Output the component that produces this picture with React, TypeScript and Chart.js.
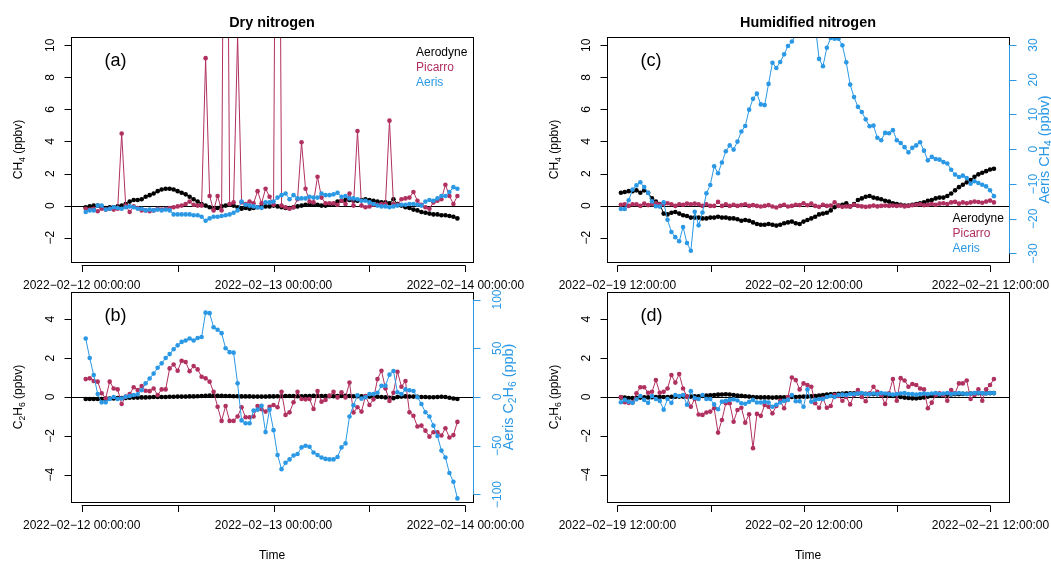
import { useEffect, useRef } from "react";
import { Chart, registerables } from "chart.js";

Chart.register(...registerables);

const FONT = '"Liberation Sans", Arial, Helvetica, sans-serif';
const BLACK = "#000000";
const MAROON = "#B03060";
const BLUE = "#2A98E5";

// ---------- sampling (hours since first axis tick) ----------
const DRY_FIRST_HOUR = 0.5; // 2022-02-12 00:00 + 0.5 h
const HUM_FIRST_HOUR = 0.45; // 2022-02-19 12:00 + 0.45 h
const SAMPLE_STEP_HOURS = 0.5;

// ---------- Dry nitrogen, CH4 (ppbv) ----------
const dryAerodyneCH4 = [
  -0.1, -0.05, 0.0, 0.0, -0.1, -0.15, -0.1, -0.1, -0.05, 0.0,
  0.1, 0.25, 0.35, 0.35, 0.4, 0.55, 0.65, 0.75, 0.9, 1.0,
  1.05, 1.05, 1.0, 0.9, 0.8, 0.7, 0.55, 0.4, 0.25, 0.1,
  0.0, -0.1, -0.2, -0.15, -0.05, 0.0, 0.05, 0.0, -0.1, -0.2,
  -0.15, -0.2, -0.15, -0.1, -0.05, -0.05, -0.05, 0.0, -0.05, -0.1,
  -0.15, -0.15, -0.1, -0.05, 0.0, 0.05, 0.05, 0.05, 0.05, 0.0,
  0.0, 0.05, 0.1, 0.25, 0.3, 0.35, 0.35, 0.3, 0.3, 0.35,
  0.4, 0.35, 0.3, 0.25, 0.2, 0.2, 0.15, 0.4, 0.1, 0.0,
  -0.1, -0.15, -0.25, -0.3, -0.4, -0.45, -0.5, -0.55, -0.55, -0.6,
  -0.6, -0.65, -0.7, -0.8,
];
const dryPicarroCH4 = [
  -0.2, -0.25, -0.2, -0.35, -0.2, -0.25, -0.2, -0.25, -0.2, 4.5,
  0.0, -0.4, -0.05, -0.15, -0.3, -0.3, -0.35, -0.3, -0.2, -0.25,
  -0.2, -0.15, -0.1, -0.05, 0.0, 0.1, 0.25, 0.05, 0.0, 0.0,
  9.2, 0.6, -0.3, 0.6, -0.3, 40, 0.1, 0.2, 10.6, 0.2,
  0.1, 0.25, 0.15, 0.9, 0.15, 1.05, 0.55, 0.05, 45, 0.0,
  -0.1, -0.2, -0.1, 0.4, 3.95, 1.05, 0.25, 0.2, 1.8, 0.5,
  0.15, 0.15, 0.15, 0.05, 0.3, 0.1, 0.75, 0.0, 4.65, 0.0,
  -0.1, -0.05, 0.05, 0.05, 0.1, 0.1, 5.3, 0.1, 0.05, 0.4,
  0.45, 0.5, 0.85, 0.3, 0.05, -0.1, -0.2, 0.2, 0.3, 0.4,
  1.3, 0.6, 0.1, 0.6,
];
const dryAerisCH4 = [
  -0.4, -0.3, -0.3, 0.0, 0.0, -0.25, -0.2, -0.1, -0.15, -0.2,
  -0.1, -0.05, -0.1, -0.2, -0.2, -0.3, -0.25, -0.3, -0.25, -0.3,
  -0.25, -0.3, -0.55, -0.55, -0.55, -0.55, -0.55, -0.6, -0.6, -0.7,
  -0.95, -0.8, -0.7, -0.7, -0.65, -0.6, -0.55, -0.45, -0.3, 0.25,
  0.05, 0.0, -0.05, -0.1, -0.15, 0.2, 0.2, 0.25, 0.5, 0.65,
  0.75, 0.4, 0.65, 0.45, 0.45, 0.45, 0.55, 0.5, 0.5, 0.75,
  0.65, 0.65, 0.7, 0.8, 0.55, 0.6, 0.45, 0.45, 0.4, 0.3,
  0.3, 0.2, 0.1, 0.0, -0.05, -0.05, -0.1, -0.05, 0.0, 0.05,
  0.05, 0.1, 0.1, 0.05, 0.0, 0.25, 0.35, 0.3, 0.45, 0.6,
  0.6, 0.85, 1.15, 1.05,
];

// ---------- Dry nitrogen, C2H6 ----------
const dryAerodyneC2H6 = [
  -0.1, -0.1, -0.1, -0.1, -0.1, -0.1, -0.08, -0.08, -0.06, -0.05,
  -0.05, -0.04, -0.03, -0.03, -0.02, -0.02, -0.01, 0.0, 0.0, 0.0,
  0.0, 0.01, 0.01, 0.02, 0.02, 0.02, 0.03, 0.03, 0.04, 0.05,
  0.06, 0.07, 0.07, 0.06, 0.06, 0.05, 0.05, 0.04, 0.04, 0.03,
  0.03, 0.03, 0.02, 0.02, 0.02, 0.02, 0.03, 0.03, 0.04, 0.04,
  0.05, 0.05, 0.05, 0.04, 0.04, 0.05, 0.05, 0.06, 0.06, 0.05,
  0.05, 0.04, 0.04, 0.05, 0.06, 0.06, 0.05, 0.04, 0.04, 0.03,
  0.03, 0.02, 0.02, 0.01, 0.0, -0.02, -0.04, -0.06, 0.0, 0.02,
  0.03, 0.02, 0.02, 0.01, 0.0, 0.0, -0.01, -0.01, 0.0, 0.01,
  0.0, -0.04, -0.08, -0.1,
];
const dryPicarroC2H6 = [
  0.92, 0.96, 0.82, 0.79, 0.19, -0.07, 0.79, 0.44, 0.39, -0.36,
  0.02, 0.15, 0.5, 0.36, 0.56, 0.32, 0.3, 0.44, 0.1, 0.39,
  0.39, 1.47, 1.67, 1.35, 1.86, 1.8, 1.33, 1.59, 1.42, 1.04,
  0.96, 0.79, 0.27, -0.5, -1.23, -0.46, -1.23, -1.23, -1.0, -0.53,
  -1.04, -1.04, -1.0, -0.46, -0.63, -0.75, -0.5, -0.41, -0.53, 0.27,
  -0.92, -0.79, -0.27, 0.27, -0.1, -0.12, -0.1, -0.62, 0.31, -0.24,
  -0.15, 0.07, 0.27, -0.02, 0.24, -0.02, 0.74, -0.8, -0.53, -0.75,
  0.05, -0.41, -0.12, 0.92, 1.35, 0.44, -0.2, 0.22, 1.3, 0.53,
  0.82, -0.79, -0.97, -1.52, -1.47, -1.73, -2.04, -1.81, -1.81, -1.98,
  -1.61, -2.08, -1.96, -1.28,
];
const dryAerisC2H6 = [
  60, 40, 22.6, 3, -5.5, -5.5, -2, 0, -2, -1.5,
  0.3, 1, 2, 2.7, 7, 14, 19, 24, 30, 34.5,
  40, 44, 49, 53, 56.5, 58, 60, 58, 60.5, 61.5,
  86.5, 86, 71.5, 69, 65.5, 50, 46, 45.5, 14, -24,
  -27, -27, -14, -13, -9, -36, -13, -34, -59.5, -74,
  -67.5, -64, -60, -58.5, -51.7, -50, -51, -57, -59.5, -62,
  -63.5, -64, -64, -61.5, -51.7, -47.6, -20, -8.4, 1.7, -1.7,
  -0.3, 3, 3, 4.4, 11.6, 11.6, 22.9, 26.7, 4.8, 3,
  7.8, 7, 6.1, -0.3, -7.2, -15.7, -20, -29.4, -40, -55,
  -62, -78, -87, -104,
];

// ---------- Humidified nitrogen, CH4 ----------
const humAerodyneCH4 = [
  0.8, 0.85, 0.9, 0.9, 0.95, 0.8, 0.95, 0.8, 0.45, 0.25,
  0.1, -0.5, -0.55, -0.45, -0.4, -0.5, -0.6, -0.65, -0.75, -0.75,
  -0.75, -0.8, -0.8, -0.75, -0.75, -0.7, -0.75, -0.75, -0.8, -0.8,
  -0.85, -0.95, -0.9, -0.95, -1.05, -1.15, -1.2, -1.2, -1.15, -1.2,
  -1.25, -1.2, -1.1, -1.05, -1.0, -1.1, -1.15, -1.0, -0.9, -0.8,
  -0.7, -0.55, -0.5, -0.45, -0.3, -0.1, 0.0, 0.05, 0.15, -0.05,
  0.1, 0.35, 0.45, 0.55, 0.6, 0.5, 0.45, 0.4, 0.3, 0.25,
  0.15, 0.1, 0.05, 0.0, 0.0, 0.05, 0.1, 0.15, 0.2, 0.3,
  0.35, 0.45, 0.5, 0.5, 0.6, 0.75, 0.95, 1.15, 1.3, 1.45,
  1.6, 1.8, 1.95, 2.05, 2.15, 2.25, 2.3,
];
const humPicarroCH4 = [
  0.05, 0.08, -0.02, 0.08, 0.08, -0.02, 0.12, 0.03, 0.08, 0.15,
  0.08, 0.08, 0.15, 0.08, -0.02, 0.08, 0.05, 0.12, 0.08, 0.12,
  0.08, -0.02, 0.08, -0.02, -0.02, 0.23, -0.02, 0.08, -0.02, 0.05,
  -0.02, 0.03, 0.08, -0.02, 0.03, -0.02, -0.06, -0.02, 0.03, -0.06,
  -0.12, -0.02, 0.05, -0.06, -0.02, 0.05, 0.03, 0.15, 0.02, 0.12,
  -0.02, -0.08, 0.05, -0.02, 0.0, 0.2, -0.02, -0.08, -0.05, -0.05,
  0.05, -0.02, -0.05, -0.08, -0.05, 0.0, -0.05, -0.02, 0.0, -0.02,
  0.0, -0.02, 0.0, -0.05, -0.02, 0.02, 0.05, 0.08, 0.02, 0.05,
  0.1, 0.05, 0.12, 0.15, 0.1, 0.2, 0.23, 0.12, 0.2, 0.15,
  0.2, 0.25, 0.22, 0.18, 0.25, 0.31, 0.2,
];
const humAerisCH4 = [
  -17.2, -17.2, -14.7, -11.6, -10.4, -9.5, -10.9, -12.6, -15.0, -16.4,
  -16.5, -15.3, -20.3, -23.8, -25.3, -26.5, -22.4, -27.0, -29.2, -18.0,
  -21.9, -18.2, -12.7, -10.3, -4.9, -6.9, -3.8, -0.6, 1.1, -0.1,
  2.2, 5.1, 6.7, 11.4, 14.5, 16.0, 12.9, 12.7, 18.8, 24.9,
  23.4, 25.1, 27.3, 29.7, 31.0,
  33, 36, 38, 39, 38, 36,
  26, 23.9, 29.2, 32.0, 31.8, 31.8, 29.9, 25, 18.6, 15,
  12.2, 10.7, 8.6, 6.6, 6.8, 3.3, 2.6, 4.7, 4.6, 5.5,
  2.6, 1.8, 0.6, -0.9, 0.4, 1.1, 2.0, -0.4, -3.2, -2.2,
  -2.8, -3.0, -3.7, -4.1, -5.9, -7.3, -8.0, -7.6, -8.3, -9.9,
  -9.2, -9.7, -10.2, -10.7, -11.8, -13.5,
];

// ---------- Humidified nitrogen, C2H6 ----------
const humAerodyneC2H6 = [
  -0.02, -0.03, -0.05, -0.05, -0.04, -0.03, -0.02, -0.02, -0.01, 0.0,
  0.0, 0.0, 0.0, 0.01, 0.01, 0.02, 0.02, 0.02, 0.02, 0.03,
  0.03, 0.05, 0.07, 0.09, 0.1, 0.12, 0.13, 0.14, 0.13, 0.1,
  0.08, 0.06, 0.04, 0.02, 0.0, -0.01, -0.02, -0.02, -0.02, -0.03,
  -0.02, -0.02, -0.01, -0.01, 0.0, 0.0, 0.01, 0.02, 0.02, 0.03,
  0.05, 0.07, 0.1, 0.12, 0.14, 0.15, 0.16, 0.18, 0.19, 0.19,
  0.19, 0.18, 0.17, 0.16, 0.15, 0.15, 0.14, 0.12, 0.1, 0.08,
  0.05, 0.03, 0.0, -0.03, -0.05, -0.07, -0.07, -0.05, -0.02, 0.02,
  0.05, 0.08, 0.1, 0.11, 0.12, 0.13, 0.14, 0.15, 0.16, 0.17,
  0.18, 0.18, 0.19, 0.19, 0.19, 0.2, 0.2,
];
const humPicarroC2H6 = [
  0.0, -0.27, -0.3, -0.27, 0.19, 0.5, 0.5, 0.22, 0.27, 0.87,
  0.22, 0.27, 0.44, 1.13, 0.74, 1.18, 0.44, 0.02, -0.5, -0.1,
  -0.9, -0.92, -0.8, -0.75, -0.58, -1.83, -1.18, -0.32, -0.32, -1.27,
  -0.67, -0.55, -1.32, -0.89, -2.63, -0.87, -0.97, -0.41, -0.5, -0.84,
  -0.46, -0.19, -0.58, 0.0, 1.0, 0.87, 0.39, 0.7, 0.62, 0.53,
  -0.32, -0.55, -0.07, -0.55, -0.46, 0.1, 0.05, -0.19, 0.0, -0.38,
  0.1, 0.36, 0.0, -0.22, 0.19, 0.53, 0.27, 0.1, -0.36, 0.19,
  0.92, -0.19, 0.97, 0.85, 0.53, 0.67, 0.62, 0.44, 0.39, -0.58,
  -0.29, 0.1, 0.19, 0.1, -0.19, 0.36, 0.19, 0.7, 0.7, 0.85,
  -0.1, 0.1, 0.39, -0.19, 0.4, 0.62, 0.92,
];
const humAerisC2H6 = [
  -0.27, -0.15, -0.24, -0.3, -0.12, 0.05, -0.15, -0.3, 0.05, -0.1,
  -0.2, -0.65, -0.1, -0.3, 0.1, 0.05, 0.1, -0.4, 0.3, -0.05,
  -0.1, 0.1, -0.1, -0.1, -0.38, -0.63, -0.24, -0.2, -0.15, -0.12,
  -0.18, -0.32, -0.35, -0.25, -0.15, -0.28, -0.28, -0.25, -0.28, -0.5,
  -0.4, -0.28, -0.2, -0.15, 0.1, -0.22, -0.22, -0.5, 0.39, -0.24,
  -0.15, -0.1, -0.1, 0.0, 0.05, 0.0, 0.1, 0.12, 0.1, 0.15,
  0.15, 0.18, 0.2, 0.15, 0.15, 0.18, 0.15, 0.2, 0.18, 0.15,
  0.12, 0.15, 0.18, 0.2, 0.15, 0.15, 0.12, 0.15, 0.18, 0.15,
  0.18, 0.2, 0.15, 0.18, 0.2, 0.15, 0.18, 0.2, 0.18, 0.15,
  0.18, 0.2, 0.22, 0.2, 0.18, 0.2, 0.2,
];

// ---------- axes ----------
const xTickHours = [0, 12, 24, 36, 48];
const dryTickLabels = ["2022\u221202\u221212 00:00:00", "", "2022\u221202\u221213 00:00:00", "", "2022\u221202\u221214 00:00:00"];
const humTickLabels = ["2022\u221202\u221219 12:00:00", "", "2022\u221202\u221220 12:00:00", "", "2022\u221202\u221221 12:00:00"];
const ch4Ticks = [-2, 0, 2, 4, 6, 8, 10];
const c2h6Ticks = [-4, -2, 0, 2, 4];
const aerisC2H6Ticks = [-100, -50, 0, 50, 100];
const aerisCH4Ticks = [-30, -20, -10, 0, 10, 20, 30];
const seriesNames = ["Aerodyne", "Picarro", "Aeris"];
const seriesColors = [BLACK, MAROON, BLUE];

const dryTimes = dryAerodyneCH4.map((_, i) => DRY_FIRST_HOUR + i * SAMPLE_STEP_HOURS);
const humTimes = humAerodyneCH4.map((_, i) => HUM_FIRST_HOUR + i * SAMPLE_STEP_HOURS);

type Seg = [string, boolean];
const CH4_TITLE: Seg[] = [["CH", false], ["4", true], [" (ppbv)", false]];
const C2H6_TITLE: Seg[] = [["C", false], ["2", true], ["H", false], ["6", true], [" (ppbv)", false]];
const AERIS_CH4_TITLE: Seg[] = [["Aeris CH", false], ["4", true], [" (ppbv)", false]];
const AERIS_C2H6_TITLE: Seg[] = [["Aeris C", false], ["2", true], ["H", false], ["6", true], [" (ppb)", false]];

const fmt = (v: number) => (v < 0 ? "\u2212" + Math.abs(v) : String(v));
const crisp = (v: number) => Math.round(v) + 0.5;

function vtext(ctx: any, bx: number, cy: number, segs: Seg[], size: number, color: string) {
  ctx.save();
  ctx.translate(bx, cy);
  ctx.rotate(-Math.PI / 2);
  ctx.fillStyle = color;
  ctx.textBaseline = "alphabetic";
  ctx.textAlign = "left";
  const sub = size * 0.72;
  const widths = segs.map(([t, s]) => {
    ctx.font = `${s ? sub : size}px ${FONT}`;
    return ctx.measureText(t).width;
  });
  const total = widths.reduce((a, b) => a + b, 0);
  let x = -total / 2;
  segs.forEach(([t, s], i) => {
    ctx.font = `${s ? sub : size}px ${FONT}`;
    ctx.fillText(t, x, s ? size * 0.25 : 0);
    x += widths[i];
  });
  ctx.restore();
}

type Series = { name: string; color: string; times: number[]; values: number[]; axis: string };
type Panel = {
  tag: string;
  area: { left: number; top: number; right: number; bottom: number };
  x: [number, number];
  y: [number, number];
  y2?: [number, number];
  yTicks: number[];
  y2Ticks?: number[];
  yTitle: Seg[];
  y2Title?: Seg[];
  xLabels: string[];
  title?: string;
  time: boolean;
  legend?: { x: number; y: number };
  series: Series[];
};

const DRY_X: [number, number] = [-1.34, 48.95];
const HUM_X: [number, number] = [-1.34, 50.39];
const CH4_Y: [number, number] = [-3.52, 10.52];
const C2H6_Y: [number, number] = [-5.4, 5.4];

const panels: Panel[] = [
  {
    tag: "(a)",
    area: { left: 71, top: 37, right: 473, bottom: 262 },
    x: DRY_X, y: CH4_Y, yTicks: ch4Ticks, yTitle: CH4_TITLE,
    xLabels: dryTickLabels, title: "Dry nitrogen", time: false,
    legend: { x: 416, y: 55.5 },
    series: [
      { name: "Aeris", color: BLUE, times: dryTimes, values: dryAerisCH4, axis: "y" },
      { name: "Picarro", color: MAROON, times: dryTimes, values: dryPicarroCH4, axis: "y" },
      { name: "Aerodyne", color: BLACK, times: dryTimes, values: dryAerodyneCH4, axis: "y" },
    ],
  },
  {
    tag: "(b)",
    area: { left: 71, top: 292, right: 473, bottom: 502 },
    x: DRY_X, y: C2H6_Y, y2: [-107.7, 107.7], yTicks: c2h6Ticks, y2Ticks: aerisC2H6Ticks,
    yTitle: C2H6_TITLE, y2Title: AERIS_C2H6_TITLE,
    xLabels: dryTickLabels, time: true,
    series: [
      { name: "Aeris", color: BLUE, times: dryTimes, values: dryAerisC2H6, axis: "y2" },
      { name: "Picarro", color: MAROON, times: dryTimes, values: dryPicarroC2H6, axis: "y" },
      { name: "Aerodyne", color: BLACK, times: dryTimes, values: dryAerodyneC2H6, axis: "y" },
    ],
  },
  {
    tag: "(c)",
    area: { left: 607, top: 37, right: 1009, bottom: 262 },
    x: HUM_X, y: CH4_Y, y2: [-32.45, 32.3], yTicks: ch4Ticks, y2Ticks: aerisCH4Ticks,
    yTitle: CH4_TITLE, y2Title: AERIS_CH4_TITLE,
    xLabels: humTickLabels, title: "Humidified nitrogen", time: false,
    legend: { x: 952.5, y: 222 },
    series: [
      { name: "Aeris", color: BLUE, times: humTimes, values: humAerisCH4, axis: "y2" },
      { name: "Picarro", color: MAROON, times: humTimes, values: humPicarroCH4, axis: "y" },
      { name: "Aerodyne", color: BLACK, times: humTimes, values: humAerodyneCH4, axis: "y" },
    ],
  },
  {
    tag: "(d)",
    area: { left: 607, top: 292, right: 1009, bottom: 502 },
    x: HUM_X, y: C2H6_Y, yTicks: c2h6Ticks, yTitle: C2H6_TITLE,
    xLabels: humTickLabels, time: true,
    series: [
      { name: "Aeris", color: BLUE, times: humTimes, values: humAerisC2H6, axis: "y" },
      { name: "Picarro", color: MAROON, times: humTimes, values: humPicarroC2H6, axis: "y" },
      { name: "Aerodyne", color: BLACK, times: humTimes, values: humAerodyneC2H6, axis: "y" },
    ],
  },
];

const W = 1051;
const H = 561;

function makePlugin(p: Panel) {
  return {
    id: "rstyle" + p.tag.replace(/[()]/g, ""),
    beforeDatasetsDraw(chart: any) {
      const { ctx, chartArea: a } = chart;
      const y0 = crisp(chart.scales.y.getPixelForValue(0));
      ctx.save();
      ctx.strokeStyle = BLACK;
      ctx.lineWidth = 1;
      ctx.beginPath();
      ctx.moveTo(a.left, y0);
      ctx.lineTo(a.right, y0);
      ctx.stroke();
      ctx.restore();
    },
    afterDraw(chart: any) {
      const { ctx, chartArea: a, scales } = chart;
      ctx.save();
      ctx.lineWidth = 1;
      ctx.strokeStyle = BLACK;
      ctx.fillStyle = BLACK;
      const L = crisp(a.left), R = crisp(a.right), T = crisp(a.top), B = crisp(a.bottom);
      ctx.strokeRect(L, T, R - L, B - T);

      // left axis
      const ys = scales.y;
      ctx.beginPath();
      ctx.moveTo(L, ys.getPixelForValue(p.yTicks[0]));
      ctx.lineTo(L, ys.getPixelForValue(p.yTicks[p.yTicks.length - 1]));
      ctx.stroke();
      for (const v of p.yTicks) {
        const py = crisp(ys.getPixelForValue(v));
        ctx.beginPath();
        ctx.moveTo(L, py);
        ctx.lineTo(L - 7, py);
        ctx.stroke();
        vtext(ctx, L - 17.7, ys.getPixelForValue(v), [[fmt(v), false]], 12, BLACK);
      }
      vtext(ctx, L - 50, (a.top + a.bottom) / 2, p.yTitle, 12, BLACK);

      // right axis
      if (p.y2 && p.y2Ticks && p.y2Title) {
        const y2 = scales.y2;
        ctx.strokeStyle = BLUE;
        ctx.beginPath();
        ctx.moveTo(R, y2.getPixelForValue(p.y2Ticks[0]));
        ctx.lineTo(R, y2.getPixelForValue(p.y2Ticks[p.y2Ticks.length - 1]));
        ctx.stroke();
        for (const v of p.y2Ticks) {
          const py = crisp(y2.getPixelForValue(v));
          ctx.beginPath();
          ctx.moveTo(R, py);
          ctx.lineTo(R + 7, py);
          ctx.stroke();
          vtext(ctx, R + 27.6, y2.getPixelForValue(v), [[fmt(v), false]], 12, BLUE);
        }
        vtext(ctx, R + 39, (a.top + a.bottom) / 2, p.y2Title, 14.4, BLUE);
        ctx.strokeStyle = BLACK;
      }

      // bottom time axis
      const xs = scales.x;
      const ay = crisp(a.bottom + 3);
      ctx.beginPath();
      ctx.moveTo(xs.getPixelForValue(xTickHours[0]), ay);
      ctx.lineTo(xs.getPixelForValue(xTickHours[xTickHours.length - 1]), ay);
      ctx.stroke();
      ctx.font = `12px ${FONT}`;
      ctx.textAlign = "center";
      ctx.textBaseline = "alphabetic";
      xTickHours.forEach((h, i) => {
        const px = crisp(xs.getPixelForValue(h));
        ctx.beginPath();
        ctx.moveTo(px, ay);
        ctx.lineTo(px, ay + 6.5);
        ctx.stroke();
        if (p.xLabels[i]) ctx.fillText(p.xLabels[i], xs.getPixelForValue(h), a.bottom + 27);
      });
      if (p.time) ctx.fillText("Time", (a.left + a.right) / 2, a.bottom + 56.8);

      if (p.title) {
        ctx.font = `bold 14.4px ${FONT}`;
        ctx.fillText(p.title, (a.left + a.right) / 2, 27.2);
      }

      ctx.textAlign = "left";
      ctx.font = `18px ${FONT}`;
      ctx.fillText(p.tag, a.left + 33.5, a.top + 29);

      if (p.legend) {
        ctx.font = `12px ${FONT}`;
        seriesNames.forEach((n, i) => {
          ctx.fillStyle = seriesColors[i];
          ctx.fillText(n, p.legend!.x, p.legend!.y + i * 15);
        });
      }
      ctx.restore();
    },
  };
}

function PanelChart({ p }: { p: Panel }) {
  const ref = useRef<HTMLCanvasElement | null>(null);
  useEffect(() => {
    if (!ref.current) return;
    const datasets = p.series.map((s) => ({
      label: s.name,
      data: s.times.map((t, i) => ({ x: t, y: s.values[i] })),
      yAxisID: s.axis,
      showLine: true,
      borderColor: s.color,
      backgroundColor: s.color,
      borderWidth: 1,
      pointRadius: 2.3,
      pointBorderWidth: 0,
      pointBackgroundColor: s.color,
      pointBorderColor: s.color,
      pointHoverRadius: 0,
      tension: 0,
    }));
    const scales: any = {
      x: { type: "linear", min: p.x[0], max: p.x[1], display: false },
      y: { type: "linear", min: p.y[0], max: p.y[1], display: false },
    };
    if (p.y2) scales.y2 = { type: "linear", position: "right", min: p.y2[0], max: p.y2[1], display: false };
    const chart = new Chart(ref.current, {
      type: "scatter",
      data: { datasets } as any,
      options: {
        responsive: false,
        animation: false,
        devicePixelRatio: 1,
        events: [],
        layout: {
          autoPadding: false,
          padding: {
            left: p.area.left,
            top: p.area.top,
            right: W - p.area.right,
            bottom: H - p.area.bottom,
          },
        },
        plugins: { legend: { display: false }, tooltip: { enabled: false } },
        scales,
      } as any,
      plugins: [makePlugin(p) as any],
    });
    return () => chart.destroy();
  }, [p]);
  return (
    <canvas
      ref={ref}
      width={W}
      height={H}
      style={{ position: "absolute", left: 0, top: 0, width: W, height: H }}
    />
  );
}

export default function App() {
  return (
    <div style={{ position: "fixed", left: 0, top: 0, width: W, height: H, background: "#ffffff" }}>
      {panels.map((p) => (
        <PanelChart key={p.tag} p={p} />
      ))}
    </div>
  );
}
